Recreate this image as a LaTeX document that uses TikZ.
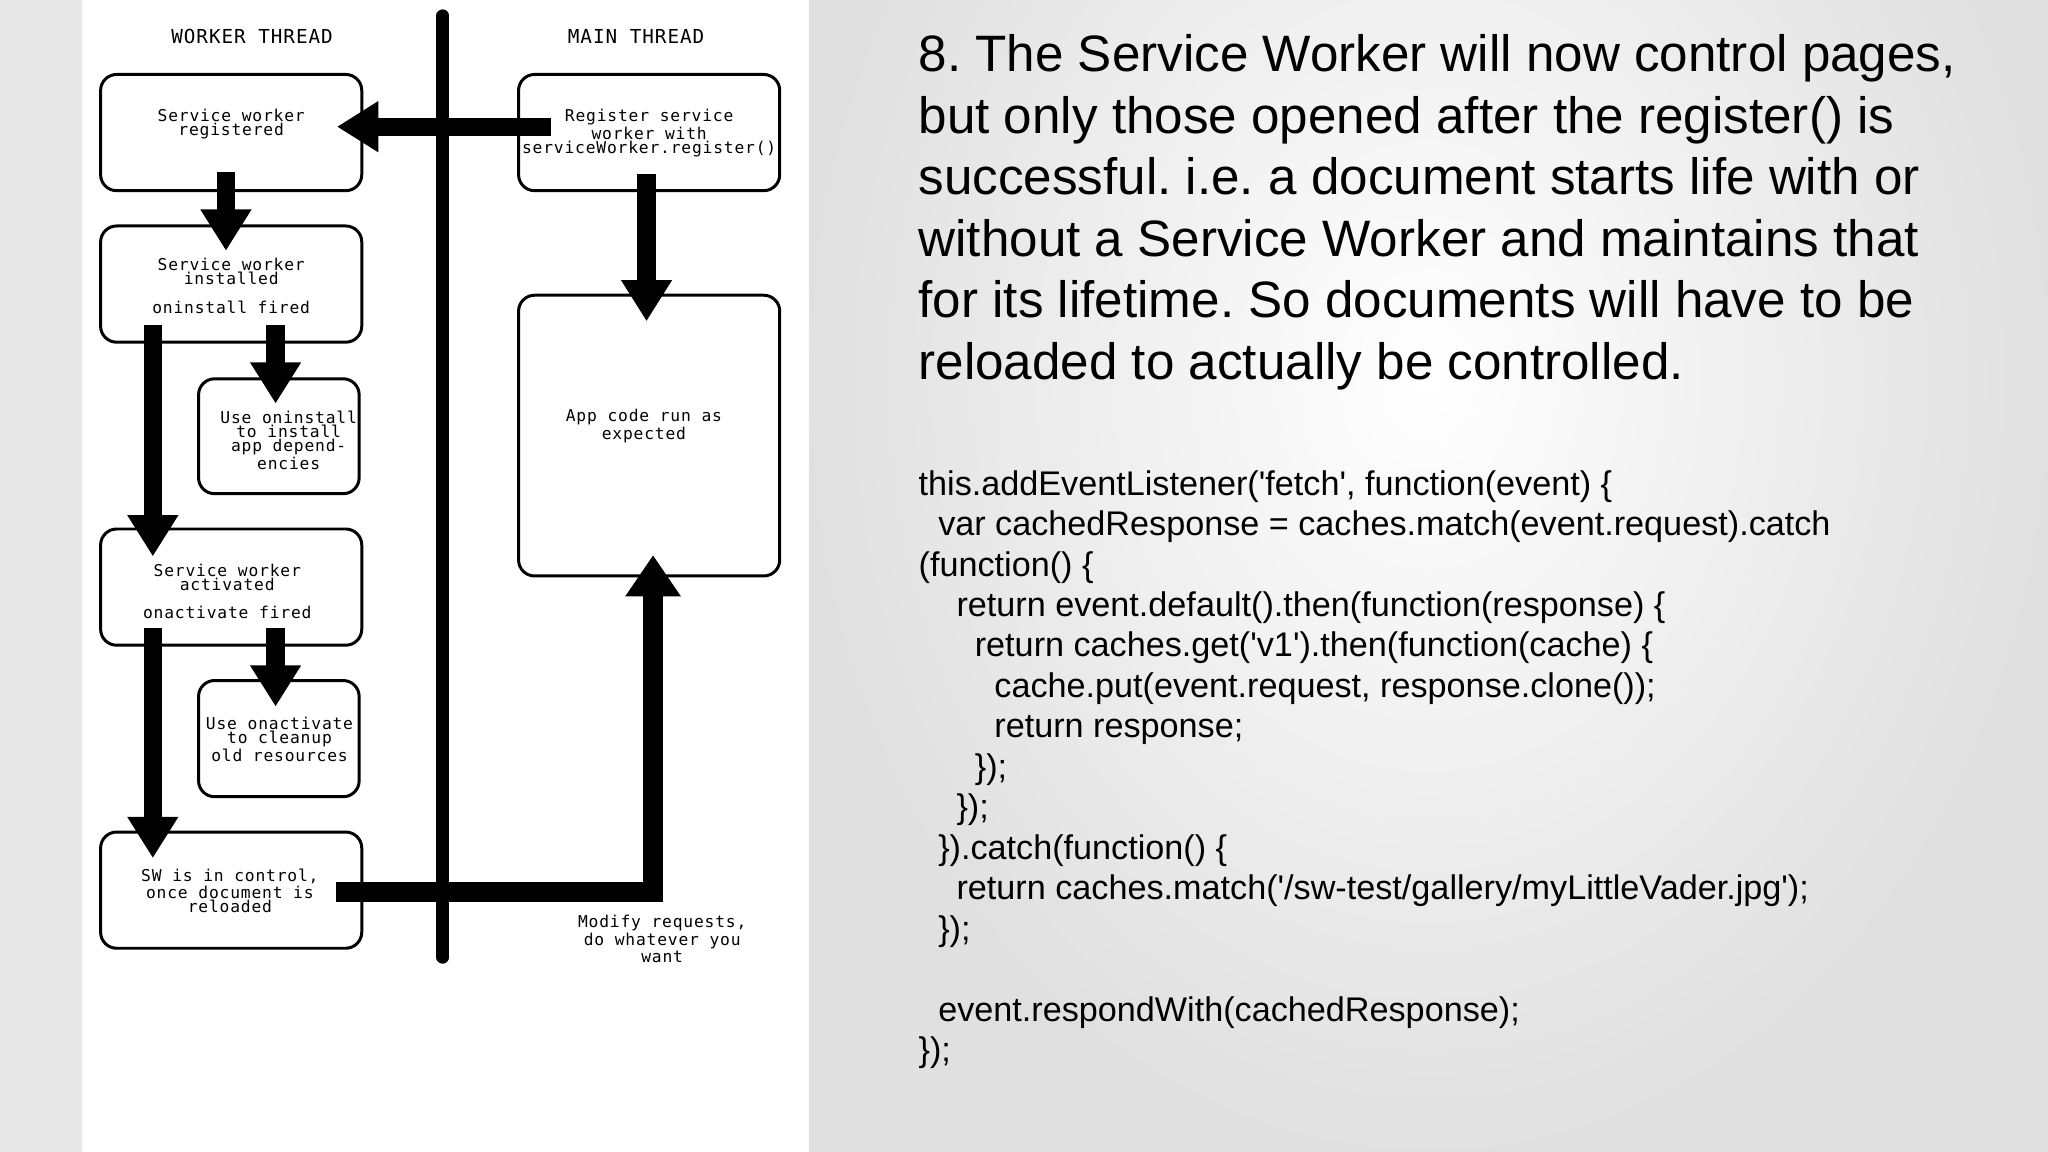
\documentclass[tikz,border=0pt]{standalone}
\usepackage{fontspec}
\setmainfont{Liberation Sans}[Ligatures=TeXOff]
\newfontfamily\dmono{DejaVu Sans Mono}[LetterSpace=5]
\usetikzlibrary{arrows.meta}
\frenchspacing
\begin{document}
\begin{tikzpicture}[x=0.02cm,y=-0.02cm,
  box/.style={draw,line width=1.3pt,rounded corners=7pt,inner sep=0pt},
  lbl/.style={font=\dmono\fontsize{7.1}{6.2}\selectfont,align=center,inner sep=0pt},
  hdr/.style={font=\dmono\fontsize{8.4}{9}\selectfont,inner sep=0pt},
  blk/.style={line width=8pt,-{Triangle[width=21pt,length=18pt]}},
  title/.style={font=\fontsize{22.3}{26.8}\selectfont,align=left,anchor=north west,inner sep=0pt},
  code/.style={font=\fontsize{14.9}{17}\selectfont,anchor=base west,inner sep=0pt}]
\useasboundingbox (0,0) rectangle (1568,882);
\shade[inner color=white,outer color=black!12] (619,-300) rectangle (1568,882);
\fill[black!9] (0,0) rectangle (63,882);
\fill[white] (63,0) rectangle (619,882);
% boxes
\node[box,minimum width=4cm,minimum height=1.78cm] (b1) at (177,101.5) {};
\node[box,minimum width=4cm,minimum height=1.78cm] (b2) at (177,217.5) {};
\node[box,minimum width=2.46cm,minimum height=1.76cm] (b3) at (213.5,334) {};
\node[box,minimum width=4cm,minimum height=1.78cm] (b4) at (177,449.5) {};
\node[box,minimum width=2.46cm,minimum height=1.78cm] (b5) at (213.5,565.5) {};
\node[box,minimum width=4cm,minimum height=1.78cm] (b6) at (177,681.5) {};
\node[box,minimum width=4cm,minimum height=1.78cm] (m1) at (497,101.5) {};
\node[box,minimum width=4cm,minimum height=4.3cm] (m2) at (497,333.5) {};
% divider
\coordinate (vt) at (339,12); \coordinate (vb) at (339,733);
\draw[line width=5.5pt,line cap=round] (vt) -- (vb);
% texts
\node[hdr] (hw) at (193,28) {WORKER THREAD};
\node[hdr] (hm) at (487,28) {MAIN THREAD};
\node[lbl] (t1) at (177,95) {Service worker\\registered};
\node[lbl] (t2) at (177,208) {Service worker\\installed};
\node[lbl] (t2b) at (177,235) {oninstall fired};
\node[lbl] (t3) at (221,337) {Use oninstall\\to install\\app depend-\\encies};
\node[lbl] (t4) at (174,442) {Service worker\\activated};
\node[lbl] (t4b) at (174,469) {onactivate fired};
\node[lbl] (t5) at (214,566) {Use onactivate\\to cleanup\\old resources};
\node[lbl] (t6) at (176,682) {SW is in control,\\once document is\\reloaded};
\node[lbl] (tm1) at (497,102) {Register service\\worker with\\serviceWorker.register()};
\node[lbl] (tm2) at (493,326) {App code run as\\expected};
\node[lbl] (tmod) at (507,719) {Modify requests,\\do whatever you\\want};
% arrows
\coordinate (a1s) at (422,97); \coordinate (a1e) at (258,97);
\draw[blk] (a1s) -- (a1e);
\coordinate (a2s) at (173,132); \coordinate (a2e) at (173,192);
\draw[blk] (a2s) -- (a2e);
\coordinate (a3s) at (211,249); \coordinate (a3e) at (211,309);
\draw[blk] (a3s) -- (a3e);
\coordinate (a4s) at (117,249); \coordinate (a4e) at (117,426);
\draw[blk] (a4s) -- (a4e);
\coordinate (a5s) at (211,481); \coordinate (a5e) at (211,541);
\draw[blk] (a5s) -- (a5e);
\coordinate (a6s) at (117,481); \coordinate (a6e) at (117,657);
\draw[blk] (a6s) -- (a6e);
\coordinate (a7s) at (495,133); \coordinate (a7e) at (495,246);
\draw[blk] (a7s) -- (a7e);
\coordinate (a8s) at (257,683); \coordinate (a8e) at (500,425);
\draw[line width=9pt,-{Triangle[width=23pt,length=18pt]}] (a8s) -| (a8e);
% right text
\node[title] (ttl) at (703,26) {8. The Service Worker will now control pages,\\but only those opened after the register() is\\successful. i.e. a document starts life with or\\without a Service Worker and maintains that\\for its lifetime. So documents will have to be\\reloaded to actually be controlled.};
\node[code] (c1) at (703,379) {this.addEventListener('fetch', function(event) \{};
\node[code] (c2) at (718,410) {var cachedResponse = caches.match(event.request).catch};
\node[code] (c3) at (703,441) {(function() \{};
\node[code] (c4) at (732,472) {return event.default().then(function(response) \{};
\node[code] (c5) at (746,503) {return caches.get('v1').then(function(cache) \{};
\node[code] (c6) at (761,534) {cache.put(event.request, response.clone());};
\node[code] (c7) at (761,565) {return response;};
\node[code] (c8) at (746,596) {\});};
\node[code] (c9) at (732,627) {\});};
\node[code] (c10) at (718,658) {\}).catch(function() \{};
\node[code] (c11) at (732,689) {return caches.match('/sw-test/gallery/myLittleVader.jpg');};
\node[code] (c12) at (718,720) {\});};
\node[code] (c13) at (718,782) {event.respondWith(cachedResponse);};
\node[code] (c14) at (703,813) {\});};
\end{tikzpicture}
\end{document}
